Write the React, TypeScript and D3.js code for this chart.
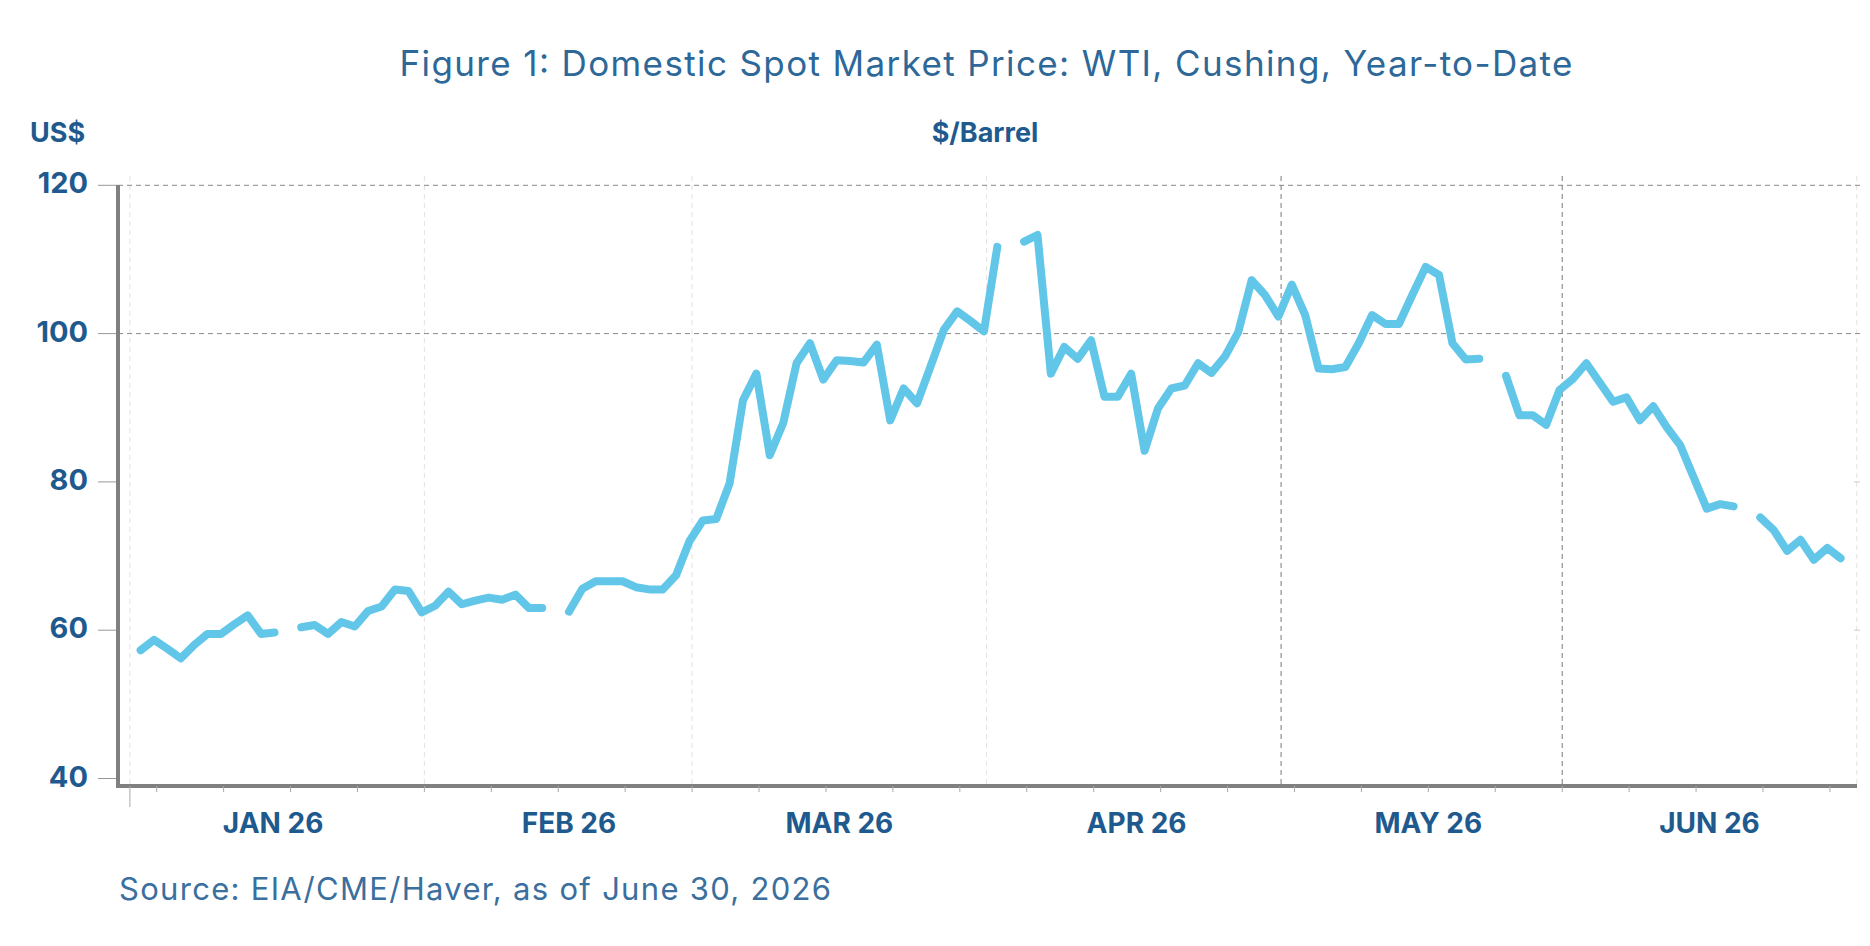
import React from 'react';
import * as d3 from 'd3';

// WTI spot, one slot per weekday from Jan 1 to Jun 30 2026, null = market holiday
const prices: (number | null)[] = [
  null, 57.3, 58.7, 57.5, 56.2, 58.0, 59.5, 59.5, 60.8, 62.0, 59.5, 59.7,
  null, 60.4, 60.7, 59.5, 61.1, 60.5, 62.6, 63.2, 65.5, 65.3,
  62.4, 63.3, 65.2, 63.5, 64.0, 64.4, 64.1, 64.8, 63.0, 63.0,
  null, 62.5, 65.6, 66.6, 66.6, 66.6, 65.8, 65.5, 65.5, 67.4,
  72.0, 74.8, 75.0, 79.8, 91.0, 94.6, 83.6, 87.9, 96.0, 98.7, 93.8,
  96.4, 96.3, 96.1, 98.5, 88.3, 92.6, 90.6, 95.5, 100.5, 103.0, 101.7,
  100.3, 111.7, null, 112.4, 113.3, 94.6, 98.2, 96.6, 99.1, 91.5, 91.5,
  94.6, 84.2, 89.9, 92.6, 93.0, 96.0, 94.7, 96.9, 100.2, 107.2, 105.2,
  102.3, 106.6, 102.5, 95.3, 95.2, 95.5, 98.7, 102.5, 101.3, 101.3, 105.2,
  109.0, 107.9, 98.7, 96.5, 96.6, null, 94.3, 89.0, 89.0, 87.7,
  92.4, 93.9, 96.0, 93.4, 90.8, 91.4, 88.3, 90.2, 87.4, 85.0, 80.7,
  76.4, 77.0, 76.7, null, 75.2, 73.5, 70.7, 72.2, 69.5, 71.1, 69.7,
];

const monthLabels = ['JAN 26', 'FEB 26', 'MAR 26', 'APR 26', 'MAY 26', 'JUN 26'];
// weekday slot under each month label
const monthLabelSlots = [10.7, 32.8, 53.0, 75.2, 97.0, 118.0];
// weekday slot where each month starts (last one = Jul 1)
const monthStarts = [0, 22, 42, 64, 86, 107, 129];
const mondays = [2, 7, 12, 17, 22, 27, 32, 37, 42, 47, 52, 57, 62, 67, 72, 77, 82, 87, 92, 97, 102, 107, 112, 117, 122, 127];
const yTicks = [40, 60, 80, 100, 120];

const title = 'Figure 1: Domestic Spot Market Price: WTI, Cushing, Year-to-Date';
const source = 'Source: EIA/CME/Haver, as of June 30, 2026';

const W = 1870;
const H = 946;
const axisLeft = 118;
const axisBottom = 786;
const plotRight = 1857;

const labelBlue = '#1f5a8e';
const lineBlue = '#62c6e8';
const font = 'Inter, "Noto Sans", sans-serif';

export default function App() {
  const x = d3.scaleLinear().domain([0, 129]).range([129.9, 1856.7]);
  const y = d3.scaleLinear().domain([40, 120]).range([778.5, 185.3]);

  const line = d3.line<number | null>()
    .defined(d => d != null)
    .x((_, i) => x(i - 0.2))
    .y(d => y(d as number));

  const path = line(prices) || '';

  return (
    <div style={{ position: 'absolute', left: 0, top: 0 }}>
      <svg width={W} height={H} style={{ display: 'block', background: '#fff' }}>
        <text x={986} y={76} textAnchor="middle" fontFamily={font} fontSize={35}
          fill="#2d6898" textLength={1173} lengthAdjust="spacing">{title}</text>

        <text x={30} y={142} fontFamily={font} fontSize={27} fontWeight={700} fill={labelBlue}>US$</text>
        <text x={985} y={142} textAnchor="middle" fontFamily={font} fontSize={27} fontWeight={700}
          fill={labelBlue}>$/Barrel</text>

        {/* vertical month gridlines */}
        {monthStarts.map((m, i) => (
          <line key={'v' + i} x1={x(m)} x2={x(m)} y1={176} y2={axisBottom}
            stroke={m === 86 || m === 107 ? '#777' : '#e2e2e2'} strokeWidth={1}
            strokeDasharray="5,4" />
        ))}

        {/* horizontal gridlines: only the upper two are visible in the original */}
        {yTicks.map(t => (
          <g key={'h' + t}>
            {(t === 100 || t === 120) && (
              <line x1={axisLeft} x2={1863} y1={y(t)} y2={y(t)} stroke="#888" strokeWidth={1}
                strokeDasharray="5,4" />
            )}
            {(t === 60 || t === 80) && (
              <line x1={1854} x2={1860} y1={y(t)} y2={y(t)} stroke="#ccc" strokeWidth={1} />
            )}
            <line x1={98} x2={axisLeft} y1={y(t)} y2={y(t)} stroke="#999" strokeWidth={1} />
            <text x={88} y={y(t) + 8} textAnchor="end" fontFamily={font} fontSize={29}
              fontWeight={700} fill={labelBlue}>{t}</text>
          </g>
        ))}

        <path d={path} fill="none" stroke={lineBlue} strokeWidth={8}
          strokeLinejoin="round" strokeLinecap="round" />

        {/* axes */}
        <line x1={axisLeft} x2={axisLeft} y1={185} y2={axisBottom + 2} stroke="#808080" strokeWidth={4} />
        <line x1={axisLeft - 2} x2={plotRight} y1={axisBottom} y2={axisBottom} stroke="#808080" strokeWidth={4} />

        {mondays.map(m => (
          <line key={'t' + m} x1={x(m)} x2={x(m)} y1={axisBottom} y2={axisBottom + 6}
            stroke="#aaa" strokeWidth={1} />
        ))}
        <line x1={x(0)} x2={x(0)} y1={axisBottom} y2={807} stroke="#aaa" strokeWidth={1} />

        {monthLabels.map((lab, i) => (
          <text key={lab} x={x(monthLabelSlots[i])} y={833}
            textAnchor="middle" fontFamily={font} fontSize={28} fontWeight={700}
            fill={labelBlue}>{lab}</text>
        ))}

        <text x={119} y={900} fontFamily={font} fontSize={31} fill="#3a6f9e"
          textLength={712} lengthAdjust="spacing">{source}</text>
      </svg>
    </div>
  );
}
